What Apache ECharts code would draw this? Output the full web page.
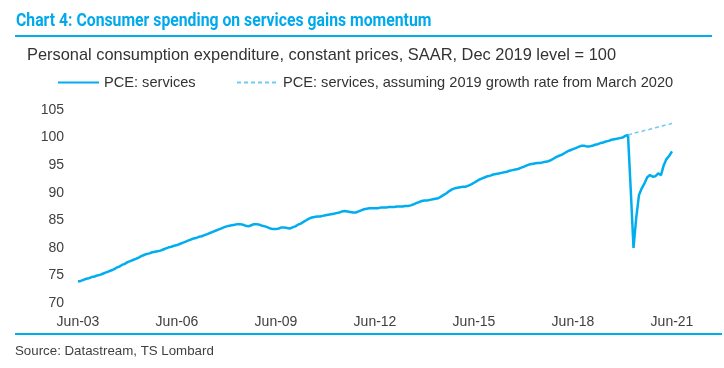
<!DOCTYPE html>
<html>
<head>
<meta charset="utf-8">
<script src="https://cdn.jsdelivr.net/npm/echarts@6/dist/echarts.min.js"></script>
<style>html,body{margin:0;padding:0;background:#fff;}#c{width:724px;height:368px;}</style>
</head>
<body>
<div id="c"></div>
<script>
// Monthly categories Jun-2003 .. Jun-2021
const startYear = 2003, startMonth = 5; // June (0-based)
const monthNames = ['Jan','Feb','Mar','Apr','May','Jun','Jul','Aug','Sep','Oct','Nov','Dec'];
const nMonths = 217;
const categories = [];
for (let i = 0; i < nMonths; i++) {
  const m = (startMonth + i) % 12;
  const y = startYear + Math.floor((startMonth + i) / 12);
  categories.push(monthNames[m] + '-' + String(y % 100).padStart(2, '0'));
}
const tickLabels = ['Jun-03','Jun-06','Jun-09','Jun-12','Jun-15','Jun-18','Jun-21'];
const yTicks = [70, 75, 80, 85, 90, 95, 100, 105];

// PCE: services (Dec 2019 = 100)
const pceServices = [
  // 2003 Jun-Dec
  73.9, 74.0, 74.2, 74.4, 74.5, 74.7, 74.8,
  // 2004
  75.0, 75.1, 75.3, 75.5, 75.7, 75.9, 76.1, 76.4, 76.6, 76.9, 77.1, 77.4,
  // 2005
  77.6, 77.8, 78.0, 78.2, 78.5, 78.7, 78.9, 79.0, 79.2, 79.3, 79.4, 79.5,
  // 2006
  79.7, 79.9, 80.1, 80.2, 80.4, 80.5, 80.7, 80.9, 81.1, 81.3, 81.5, 81.7,
  // 2007
  81.8, 82.0, 82.1, 82.3, 82.5, 82.7, 82.9, 83.1, 83.3, 83.5, 83.7, 83.9,
  // 2008
  84.0, 84.1, 84.2, 84.3, 84.3, 84.2, 84.0, 83.9, 84.1, 84.3, 84.3, 84.2,
  // 2009
  84.0, 83.9, 83.7, 83.5, 83.4, 83.4, 83.5, 83.7, 83.7, 83.6, 83.5, 83.7,
  // 2010
  83.9, 84.2, 84.4, 84.7, 85.0, 85.3, 85.5, 85.6, 85.7, 85.7, 85.8, 85.9,
  // 2011
  86.0, 86.1, 86.2, 86.3, 86.4, 86.6, 86.7, 86.6, 86.5, 86.4, 86.4, 86.6,
  // 2012
  86.8, 87.0, 87.1, 87.2, 87.2, 87.2, 87.2, 87.3, 87.3, 87.3, 87.4, 87.4,
  // 2013
  87.4, 87.5, 87.5, 87.5, 87.6, 87.6, 87.7, 87.9, 88.1, 88.3, 88.5, 88.6,
  // 2014
  88.6, 88.7, 88.8, 88.9, 89.0, 89.3, 89.6, 89.9, 90.3, 90.6, 90.8, 90.9,
  // 2015
  91.0, 91.1, 91.1, 91.3, 91.5, 91.8, 92.1, 92.4, 92.6, 92.8, 93.0, 93.1,
  // 2016
  93.3, 93.4, 93.5, 93.6, 93.7, 93.8, 94.0, 94.1, 94.2, 94.3, 94.5, 94.7,
  // 2017
  94.9, 95.1, 95.2, 95.3, 95.4, 95.4, 95.5, 95.6, 95.7, 95.9, 96.2, 96.5,
  // 2018
  96.7, 96.9, 97.2, 97.5, 97.7, 97.9, 98.1, 98.3, 98.5, 98.5, 98.4, 98.4,
  // 2019
  98.5, 98.7, 98.8, 99.0, 99.1, 99.3, 99.4, 99.6, 99.7, 99.8, 99.9, 100.0,
  // 2020
  100.3, 100.5, 90.5, 80.0, 85.5, 89.6, 90.8, 91.7, 92.8, 93.2, 92.9, 93.0,
  // 2021 Jan-Jun
  93.5, 93.2, 95.0, 96.1, 96.7, 97.5
];

// PCE: services, assuming 2019 growth rate from March 2020 (Feb-2020 .. Jun-2021)
const projStartIndex = 200;
const pceProjection = [
  100.5, 100.6, 100.8, 100.9, 101.0, 101.1, 101.3, 101.4, 101.5,
  101.7, 101.8, 101.9, 102.0, 102.2, 102.3, 102.4, 102.6
];

const projData = categories.map((c, i) =>
  i < projStartIndex ? null : pceProjection[i - projStartIndex]);

const titleText = 'Chart 4: Consumer spending on services gains momentum';
const subtitleText = 'Personal consumption expenditure, constant prices, SAAR, Dec 2019 level = 100';
const sourceText = 'Source: Datastream, TS Lombard';
const seriesNames = ['PCE: services', 'PCE: services, assuming 2019 growth rate from March 2020'];

const textFont = '"Liberation Sans", Arial, sans-serif';
const legendCommon = {
  itemWidth: 41, itemHeight: 14, itemGap: 6,
  itemStyle: {opacity: 0},
  textStyle: {fontFamily: textFont, fontSize: 14.6, color: '#333333'}
};
const chart = echarts.init(document.getElementById('c'), null, {renderer: 'canvas'});
chart.setOption({
  animation: false,
  backgroundColor: '#ffffff',
  legend: [
    Object.assign({data: [seriesNames[0]], left: 52, top: 70}, legendCommon),
    Object.assign({data: [seriesNames[1]], left: 231, top: 70}, legendCommon)
  ],
  grid: {left: 78, right: 52, top: 110, bottom: 65, containLabel: false},
  xAxis: {
    type: 'category',
    data: categories,
    boundaryGap: false,
    axisLine: {show: false},
    axisTick: {show: false},
    splitLine: {show: false},
    axisLabel: {
      interval: (idx, val) => tickLabels.indexOf(val) >= 0,
      margin: 12,
      fontFamily: textFont, fontSize: 14, color: '#404040'
    }
  },
  yAxis: {
    type: 'value',
    min: yTicks[0], max: yTicks[yTicks.length - 1], interval: 5,
    axisLine: {show: false},
    axisTick: {show: false},
    splitLine: {show: false},
    axisLabel: {margin: 14, fontFamily: textFont, fontSize: 14, color: '#404040'}
  },
  series: [
    {
      name: seriesNames[0],
      type: 'line',
      data: pceServices,
      symbol: 'none',
      lineStyle: {color: '#00AEEF', width: 2.5},
      itemStyle: {color: '#00AEEF'},
      z: 2
    },
    {
      name: seriesNames[1],
      type: 'line',
      data: projData,
      symbol: 'none',
      lineStyle: {color: '#6FCBF3', width: 1.5, type: [4, 3]},
      itemStyle: {color: '#6FCBF3'},
      z: 3
    }
  ],
  graphic: [
    {type: 'text', x: 16, y: 21, scaleX: 0.83,
     style: {text: titleText, font: 'bold 19px Roboto, sans-serif', fill: '#00A9EC', verticalAlign: 'middle', align: 'left'}},
    {type: 'line', shape: {x1: 15, y1: 36, x2: 712, y2: 36}, style: {stroke: '#00AEEF', lineWidth: 2}},
    {type: 'text', x: 27, y: 55,
     style: {text: subtitleText, font: '16.4px "Liberation Sans", Arial, sans-serif', fill: '#333333', verticalAlign: 'middle', align: 'left'}},
    {type: 'line', shape: {x1: 15, y1: 334, x2: 722, y2: 334}, style: {stroke: '#00AEEF', lineWidth: 2}},
    {type: 'text', x: 15, y: 351,
     style: {text: sourceText, font: '13.3px "Liberation Sans", Arial, sans-serif', fill: '#404040', verticalAlign: 'middle', align: 'left'}}
  ]
});
</script>
</body>
</html>
